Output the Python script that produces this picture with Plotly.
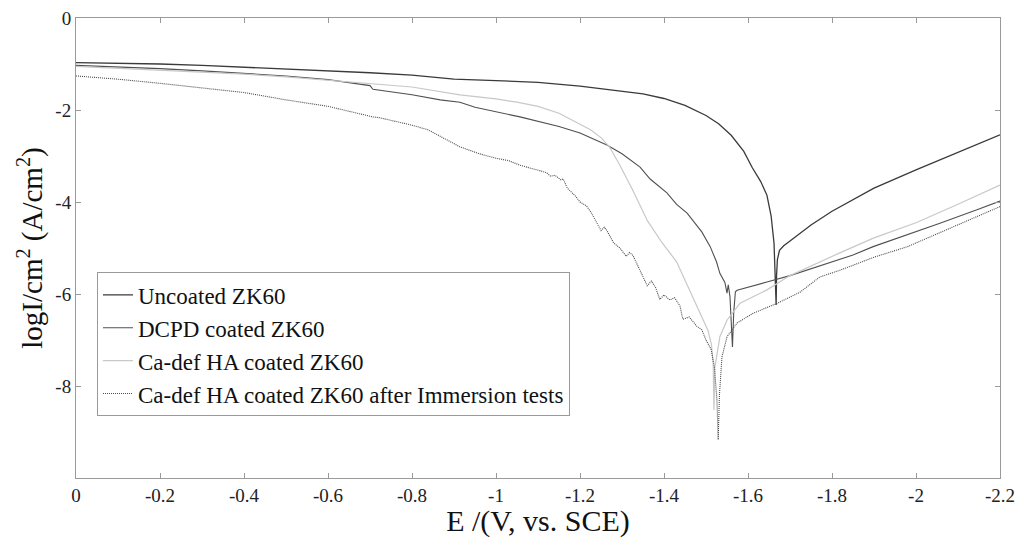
import plotly.graph_objects as go

# Tafel curves (E in V vs SCE, log current density)
uncoated_e = [0, -0.1, -0.2, -0.3, -0.4, -0.5, -0.6, -0.7, -0.8, -0.84, -0.9, -1.0, -1.1,
              -1.2, -1.3, -1.35, -1.4, -1.45, -1.5, -1.53, -1.56, -1.59, -1.61, -1.63,
              -1.645, -1.655, -1.662, -1.665, -1.667, -1.668, -1.670, -1.675, -1.685,
              -1.70, -1.75, -1.8, -1.9, -2.0, -2.1, -2.2]
uncoated_i = [-0.97, -0.98, -1.0, -1.03, -1.07, -1.1, -1.15, -1.19, -1.24, -1.28, -1.33,
              -1.36, -1.40, -1.48, -1.59, -1.65, -1.75, -1.9, -2.12, -2.3, -2.55, -2.9,
              -3.25, -3.55, -3.85, -4.3, -4.9, -5.5, -6.24, -5.6, -5.25, -5.05, -4.95,
              -4.85, -4.5, -4.2, -3.7, -3.3, -2.92, -2.54]

dcpd_e = [0, -0.1, -0.2, -0.3, -0.4, -0.5, -0.6, -0.7, -0.707, -0.724, -0.8, -0.867,
          -0.914, -0.95, -1.057, -1.15, -1.2, -1.264, -1.3, -1.343, -1.367, -1.407, -1.43,
          -1.455, -1.469, -1.49, -1.51, -1.525, -1.533, -1.545, -1.550, -1.553, -1.557,
          -1.560, -1.563, -1.566, -1.570, -1.574, -1.60, -1.645, -1.70, -1.74, -1.771,
          -1.85, -1.898, -2.0, -2.057, -2.15, -2.2]
dcpd_i = [-1.03, -1.06, -1.1, -1.15, -1.2, -1.26, -1.34, -1.47, -1.55, -1.57, -1.67,
          -1.78, -1.83, -1.94, -2.15, -2.36, -2.5, -2.76, -2.95, -3.24, -3.5, -3.8, -4.05,
          -4.24, -4.4, -4.65, -4.97, -5.3, -5.55, -5.75, -5.98, -5.8, -6.05, -6.5,
          -7.15, -6.4, -5.95, -5.92, -5.85, -5.74, -5.6, -5.48, -5.38, -5.15, -4.97,
          -4.65, -4.46, -4.15, -3.98]

cadef_e = [0, -0.1, -0.2, -0.3, -0.4, -0.5, -0.6, -0.7, -0.8, -0.914, -1.0, -1.05,
           -1.1, -1.15, -1.2, -1.225, -1.25, -1.27, -1.295, -1.326, -1.36, -1.395,
           -1.43, -1.46, -1.486, -1.505, -1.513, -1.517, -1.519, -1.521, -1.533, -1.55,
           -1.581, -1.645, -1.7, -1.771, -1.82, -1.9, -2.0, -2.1, -2.2]
cadef_i = [-1.05, -1.09, -1.13, -1.17, -1.22, -1.28, -1.35, -1.42, -1.5, -1.67, -1.76,
           -1.83, -1.92, -2.07, -2.3, -2.43, -2.6, -2.8, -3.2, -3.75, -4.4, -4.88, -5.3,
           -5.9, -6.4, -6.8, -7.1, -7.5, -8.52, -7.6, -6.93, -6.57, -6.2, -5.91, -5.6,
           -5.3, -5.1, -4.78, -4.45, -4.05, -3.63]

immersed_e = [0, -0.1, -0.2, -0.3, -0.4, -0.5, -0.6, -0.707, -0.724, -0.8, -0.838,
              -0.914, -0.96, -1.0, -1.03, -1.057, -1.09, -1.12, -1.13, -1.14, -1.155,
              -1.16, -1.17, -1.19, -1.2, -1.215, -1.226, -1.24, -1.25, -1.258, -1.264,
              -1.28, -1.295, -1.31, -1.318, -1.326, -1.343, -1.36, -1.37, -1.38, -1.39,
              -1.40, -1.414, -1.425, -1.438, -1.445, -1.46, -1.478, -1.49, -1.5, -1.512,
              -1.52, -1.526, -1.529, -1.532, -1.538, -1.55, -1.574, -1.612, -1.67,
              -1.724, -1.771, -1.82, -1.9, -1.98, -2.1, -2.2]
immersed_i = [-1.26, -1.33, -1.42, -1.52, -1.62, -1.78, -1.92, -2.15, -2.17, -2.33,
              -2.43, -2.8, -2.95, -3.05, -3.1, -3.2, -3.28, -3.36, -3.44, -3.42, -3.52,
              -3.5, -3.7, -3.88, -4.0, -4.08, -4.22, -4.45, -4.62, -4.55, -4.62, -4.89,
              -5.0, -5.18, -5.1, -5.16, -5.5, -5.82, -5.72, -5.86, -6.12, -6.02, -6.13,
              -6.08, -6.26, -6.55, -6.5, -6.7, -6.78, -7.0, -7.2, -7.59, -8.3, -9.17,
              -8.2, -7.37, -6.93, -6.63, -6.42, -6.2, -5.96, -5.63, -5.48, -5.2, -4.97,
              -4.5, -4.1]

x_ticks = [0, -0.2, -0.4, -0.6, -0.8, -1, -1.2, -1.4, -1.6, -1.8, -2, -2.2]
x_labels = ['0', '-0.2', '-0.4', '-0.6', '-0.8', '-1', '-1.2', '-1.4', '-1.6', '-1.8', '-2', '-2.2']
y_ticks = [0, -2, -4, -6, -8]
y_labels = ['0', '-2', '-4', '-6', '-8']

serif = 'Liberation Serif, Times New Roman, serif'

fig = go.Figure()
fig.add_trace(go.Scatter(x=uncoated_e, y=uncoated_i, mode='lines', name='Uncoated ZK60',
                         line=dict(color='#3a3a3a', width=1.3)))
fig.add_trace(go.Scatter(x=dcpd_e, y=dcpd_i, mode='lines', name='DCPD coated ZK60',
                         line=dict(color='#505050', width=1.1)))
fig.add_trace(go.Scatter(x=cadef_e, y=cadef_i, mode='lines', name='Ca-def HA coated ZK60',
                         line=dict(color='#c8c8c8', width=1.2)))
fig.add_trace(go.Scatter(x=immersed_e, y=immersed_i, mode='lines',
                         name='Ca-def HA coated ZK60 after Immersion tests',
                         line=dict(color='#4a4a4a', width=1.1, dash='1px,1px')))

axis_style = dict(showline=True, mirror='ticks', linecolor='#9a9a9a', linewidth=1,
                  ticks='inside', ticklen=5, tickcolor='#9a9a9a', showgrid=False,
                  zeroline=False, automargin=False, ticklabeloverflow='allow',
                  tickfont=dict(family=serif, size=19, color='#222'))

# the page body has an 8px margin, so the figure is drawn 16px smaller each way
fig.update_layout(
    width=1008, height=530,
    margin=dict(l=68, r=16, t=10, b=60),
    paper_bgcolor='white', plot_bgcolor='white',
    font=dict(family=serif, color='#111'),
    xaxis=dict(range=[0, -2.2], tickvals=x_ticks, ticktext=x_labels,
               title=dict(text='E /(V, vs. SCE)', font=dict(family=serif, size=30), standoff=0),
               **axis_style),
    yaxis=dict(range=[-10, 0], tickvals=y_ticks, ticktext=y_labels,
               title=dict(text='logI/cm<sup>2</sup> (A/cm<sup>2</sup>)',
                          font=dict(family=serif, size=29), standoff=4),
               **axis_style),
    legend=dict(x=0.0227, y=0.447, xanchor='left', yanchor='top',
                bordercolor='#9a9a9a', borderwidth=1, bgcolor='white',
                font=dict(family=serif, size=23, color='#111'),
                itemwidth=30, tracegroupgap=0),
    showlegend=True,
)

fig.write_html('out.html')
